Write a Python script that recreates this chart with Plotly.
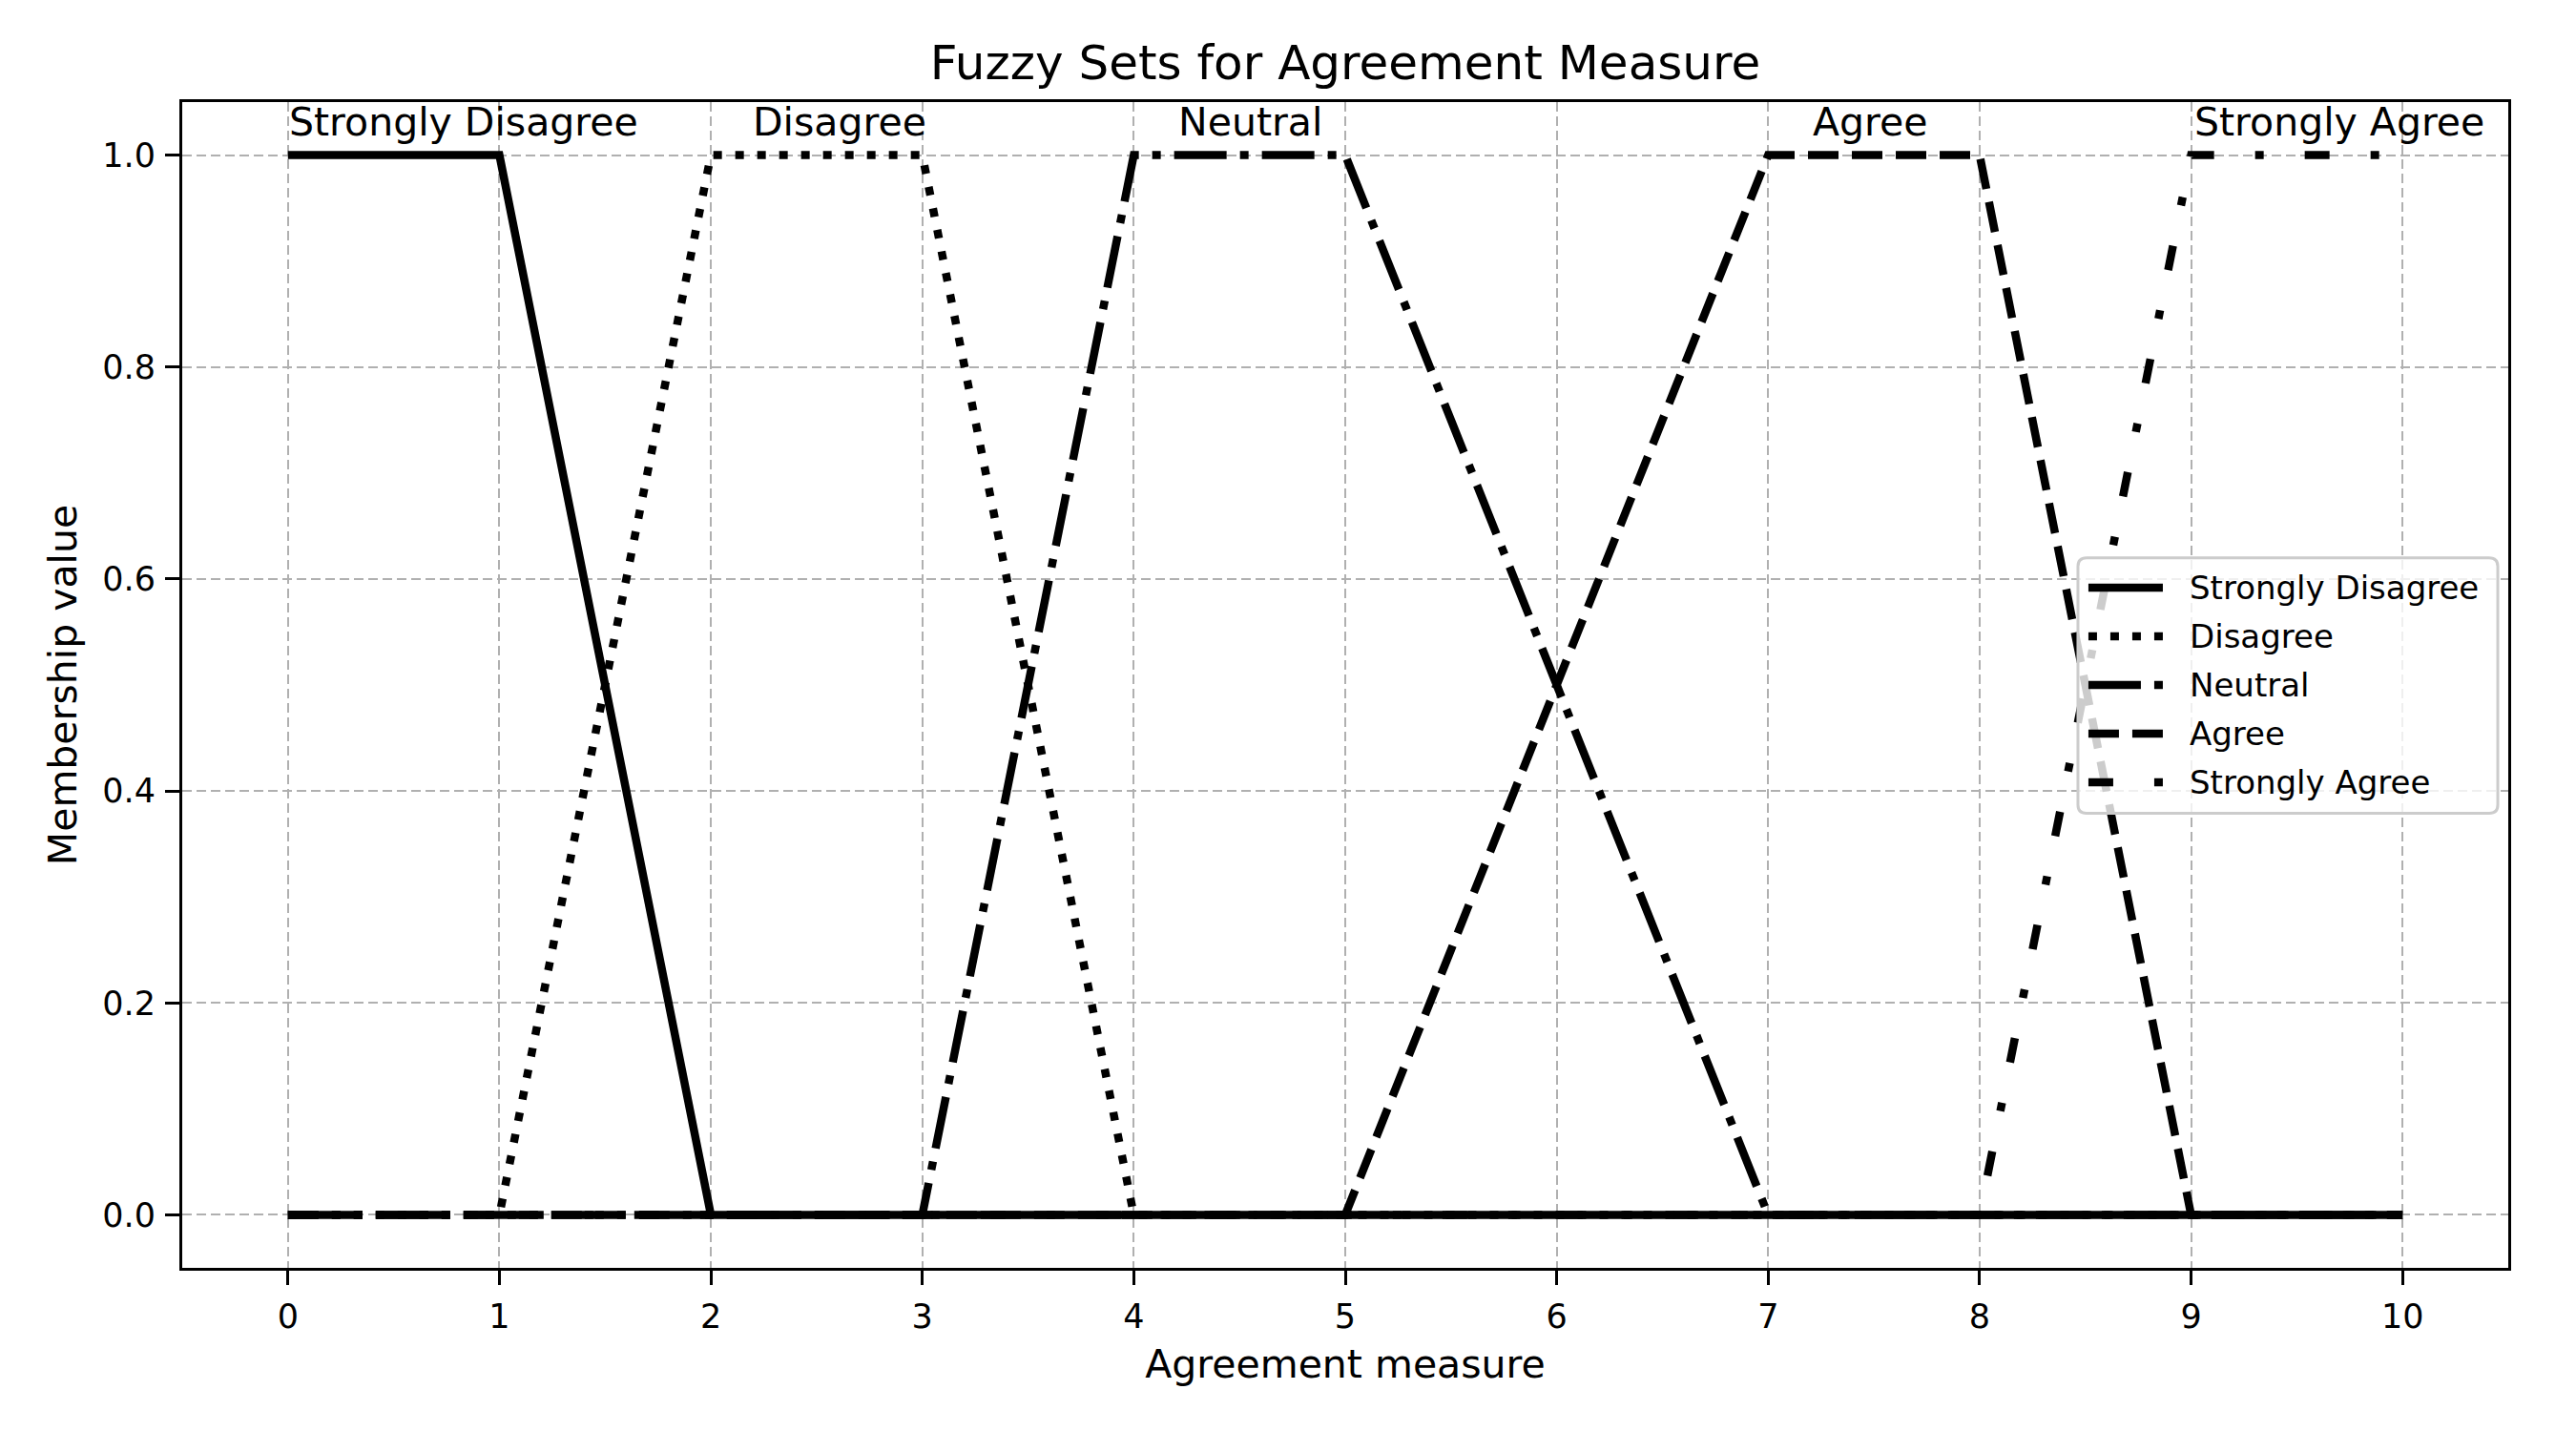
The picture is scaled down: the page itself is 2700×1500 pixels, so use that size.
import plotly.graph_objects as go

# fuzzy set vertices (trapezoids over the agreement scale)
set_names = ["Strongly Disagree", "Disagree", "Neutral", "Agree", "Strongly Agree"]
x_sd = [0, 1, 2, 10]
y_sd = [1, 1, 0, 0]
x_d = [0, 1, 2, 3, 4, 10]
y_d = [0, 0, 1, 1, 0, 0]
x_n = [0, 3, 4, 5, 7, 10]
y_n = [0, 0, 1, 1, 0, 0]
x_a = [0, 5, 7, 8, 9, 10]
y_a = [0, 0, 1, 1, 0, 0]
x_sa = [0, 8, 9, 10]
y_sa = [0, 0, 1, 1]

# where the set names sit above the plateaus
label_x = [0.83, 2.61, 4.55, 7.48, 9.70]
label_y = 1.0

x_ticks = list(range(0, 11))
y_ticks = [0.0, 0.2, 0.4, 0.6, 0.8, 1.0]

xs = [x_sd, x_d, x_n, x_a, x_sa]
ys = [y_sd, y_d, y_n, y_a, y_sa]
dashes = ["solid", "9px,14px", "55px,14px,9px,14px", "32px,14px", "26px,43px,9px,43px"]

FONT = "DejaVu Sans"
LW = 8.5

fig = go.Figure()
for name, x, y, d in zip(set_names, xs, ys, dashes):
    fig.add_trace(go.Scatter(
        x=x, y=y, name=name, mode="lines",
        line=dict(color="black", width=LW, dash=d),
        showlegend=False,
    ))

for name, lx in zip(set_names, label_x):
    fig.add_annotation(x=lx, y=label_y, text=name, showarrow=False,
                       xanchor="center", yanchor="bottom", yshift=9,
                       font=dict(size=41, color="black", family=FONT))

# hand-drawn legend box (matplotlib style, centre right, semi-transparent)
plot_w, plot_h = 2438, 1222
lx0, lx1, ly0, ly1 = 0.815, 0.9955, 0.39, 0.609
rx, ry = 9 / plot_w, 9 / plot_h
box = (f"M {lx0 + rx},{ly0} L {lx1 - rx},{ly0} Q {lx1},{ly0} {lx1},{ly0 + ry} "
       f"L {lx1},{ly1 - ry} Q {lx1},{ly1} {lx1 - rx},{ly1} "
       f"L {lx0 + rx},{ly1} Q {lx0},{ly1} {lx0},{ly1 - ry} "
       f"L {lx0},{ly0 + ry} Q {lx0},{ly0} {lx0 + rx},{ly0} Z")
fig.add_shape(type="path", path=box, xref="paper", yref="paper", layer="above",
              fillcolor="rgba(255,255,255,0.8)", line=dict(color="#cccccc", width=3))
row_h = 51 / plot_h
for i, (name, d) in enumerate(zip(set_names, dashes)):
    yy = 0.5 + (2 - i) * row_h
    fig.add_shape(type="line", xref="paper", yref="paper", layer="above",
                  x0=0.8195, x1=0.8515, y0=yy, y1=yy,
                  line=dict(color="black", width=LW, dash=d))
    fig.add_annotation(x=0.8622, y=yy, xref="paper", yref="paper", text=name,
                       showarrow=False, xanchor="left", yanchor="middle",
                       font=dict(size=34, color="black", family=FONT))

axis_common = dict(
    showline=True, linewidth=3, linecolor="black", mirror=True,
    ticks="outside", ticklen=15, tickwidth=3, tickcolor="black",
    showgrid=True, gridcolor="#b0b0b0", gridwidth=2, griddash="10px,5px",
    zeroline=False,
    tickfont=dict(size=35, color="black", family=FONT),
)

fig.update_xaxes(range=[-0.5, 10.5], tickvals=x_ticks,
                 title=dict(text="Agreement measure", font=dict(size=41, family=FONT, color="black"), standoff=17),
                 ticklabelstandoff=3, **axis_common)
fig.update_yaxes(range=[-0.05, 1.05], tickvals=y_ticks, tickformat=".1f",
                 title=dict(text="Membership value", font=dict(size=41, family=FONT, color="black"), standoff=14),
                 ticklabelstandoff=3, **axis_common)

fig.update_layout(
    width=2700, height=1500,
    margin=dict(l=183, r=79, t=99, b=179),
    paper_bgcolor="white", plot_bgcolor="white",
    font=dict(family=FONT, color="black"),
    title=dict(text="Fuzzy Sets for Agreement Measure", x=0.5, xref="paper",
               y=1 - 57 / 1500, yref="container", yanchor="middle",
               font=dict(size=50, family=FONT, color="black")),
    showlegend=False,
)

fig.write_html("out.html")
